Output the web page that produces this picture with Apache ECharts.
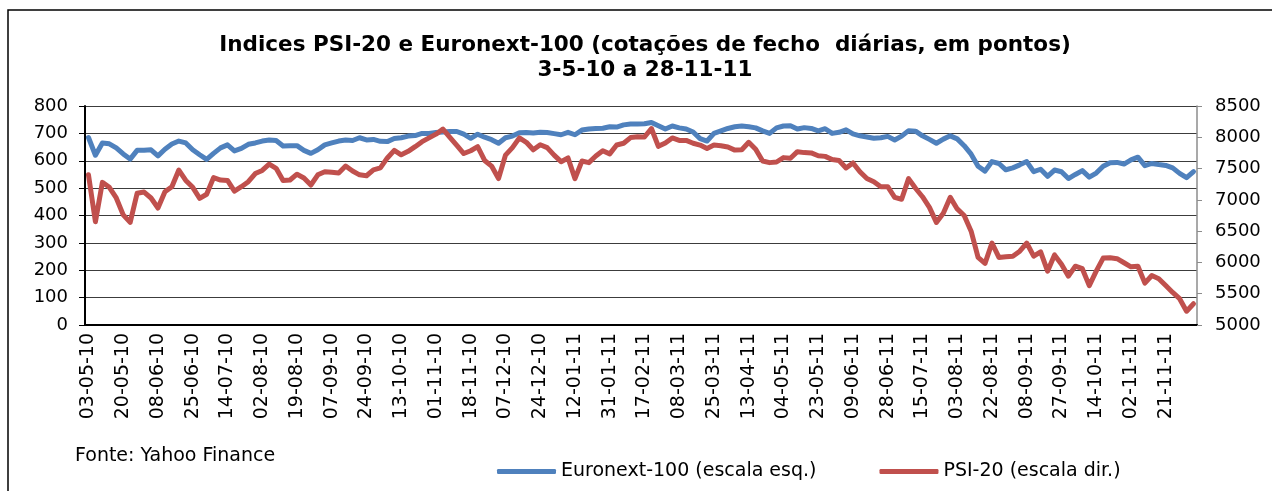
<!DOCTYPE html>
<html>
<head>
<meta charset="utf-8">
<script src="https://cdn.jsdelivr.net/npm/echarts@6/dist/echarts.min.js"></script>
<style>
html,body{margin:0;padding:0;background:#fff;}
#c{width:1272px;height:491px;}
</style>
</head>
<body>
<div id="c"></div>
<script>
// Tick labels (every 13th trading day)
const tickLabels = ['03-05-10','20-05-10','08-06-10','25-06-10','14-07-10','02-08-10','19-08-10','07-09-10',
  '24-09-10','13-10-10','01-11-10','18-11-10','07-12-10','24-12-10','12-01-11','31-01-11',
  '17-02-11','08-03-11','25-03-11','13-04-11','04-05-11','23-05-11','09-06-11','28-06-11',
  '15-07-11','03-08-11','22-08-11','08-09-11','27-09-11','14-10-11','02-11-11','21-11-11'];

// Euronext-100 (left scale), sampled 5 points per tick interval
const euronext = [
  685,620,665,662,647,625,606,638,638,640,
  618,642,661,672,665,640,622,605,627,647,
  658,636,645,660,665,672,676,674,654,655,
  655,638,627,640,658,665,672,676,674,684,
  676,678,671,670,681,684,690,692,700,700,
  703,705,707,707,697,682,697,686,677,664,
  684,690,702,703,701,704,703,699,695,704,
  695,712,716,718,719,724,723,731,734,734,
  735,740,728,716,727,720,716,705,681,672,
  700,709,718,724,727,724,720,709,700,720,
  727,728,716,721,718,709,717,700,704,713,
  698,691,687,682,684,689,676,690,710,708,
  691,678,664,679,691,680,655,624,580,562,
  597,590,567,574,585,597,560,569,543,566,
  560,535,550,564,540,555,580,593,594,588,
  603,613,582,590,586,583,574,554,538,560
];

// PSI-20 (right scale)
const psi20 = [
  7400,6650,7280,7200,7030,6760,6640,7105,7125,7030,
  6870,7130,7210,7477,7310,7200,7025,7090,7355,7317,
  7310,7140,7210,7290,7420,7470,7570,7504,7310,7317,
  7410,7350,7237,7400,7450,7440,7430,7540,7460,7400,
  7385,7480,7510,7670,7790,7720,7775,7850,7930,7990,
  8050,8130,8000,7870,7740,7785,7850,7630,7540,7340,
  7715,7835,7990,7920,7800,7880,7835,7715,7610,7670,
  7340,7620,7595,7700,7785,7735,7877,7904,7995,8010,
  8005,8140,7855,7910,7990,7950,7950,7905,7875,7820,
  7875,7865,7845,7795,7800,7920,7810,7620,7595,7605,
  7675,7665,7770,7755,7750,7705,7695,7645,7630,7510,
  7590,7450,7340,7290,7210,7210,7040,7010,7340,7185,
  7050,6880,6640,6785,7040,6855,6750,6500,6080,5985,
  6310,6080,6090,6100,6180,6310,6100,6170,5860,6120,
  5970,5780,5940,5900,5630,5860,6070,6075,6060,5995,
  5930,5940,5670,5790,5740,5630,5520,5420,5220,5340
];

const pointsPerTick = 5;
const categories = [];
tickLabels.forEach(function (t) {
  categories.push(t);
  for (let k = 1; k < pointsPerTick; k++) categories.push(t + '#' + k);
});

const FONT = 'DejaVu Sans';
const chart = echarts.init(document.getElementById('c'), null, {renderer: 'canvas'});
chart.setOption({
  animation: false,
  backgroundColor: '#ffffff',
  graphic: [
    {type: 'rect', silent: true, z: -10,
     shape: {x: 8, y: 10, width: 1300, height: 600},
     style: {fill: 'none', stroke: '#000', lineWidth: 1.5}},
    {type: 'text', x: 645, y: 33,
     style: {text: 'Indices PSI-20 e Euronext-100 (cotações de fecho  diárias, em pontos)\n3-5-10 a 28-11-11',
             textAlign: 'center', fontFamily: FONT, fontWeight: 'bold', fontSize: 21.5,
             lineHeight: 25, fill: '#000'}},
    {type: 'text', x: 75, y: 447,
     style: {text: 'Fonte: Yahoo Finance', fontFamily: FONT, fontSize: 19, fill: '#000'}}
  ],
  legend: {
    left: 497, top: 462, padding: 0, itemWidth: 59, itemHeight: 5, itemGap: 63, icon: 'roundRect',
    textStyle: {fontFamily: FONT, fontSize: 19, color: '#000'},
    data: ['Euronext-100 (escala esq.)', 'PSI-20 (escala dir.)']
  },
  grid: {left: 85, right: 75, top: 106, bottom: 166},
  xAxis: {
    type: 'category', data: categories, boundaryGap: true,
    axisLine: {lineStyle: {color: '#000', width: 2}},
    axisTick: {show: false},
    axisLabel: {interval: pointsPerTick - 1, rotate: 90, margin: 8, fontFamily: FONT, fontSize: 19, color: '#000'},
    splitLine: {show: false}
  },
  yAxis: [
    {type: 'value', position: 'left', min: 0, max: 800, interval: 100,
     axisLine: {show: true, lineStyle: {color: '#000', width: 2}},
     axisTick: {show: true, length: 6, lineStyle: {color: '#000'}},
     axisLabel: {margin: 17, fontFamily: FONT, fontSize: 18, color: '#000',
                 formatter: function (v) { return String(v); }},
     splitLine: {show: true, lineStyle: {color: '#3c3c3c', width: 1}}},
    {type: 'value', position: 'right', min: 5000, max: 8500, interval: 500,
     axisLine: {show: true, lineStyle: {color: '#8c8c8c', width: 1.5}},
     axisTick: {show: true, length: 5, lineStyle: {color: '#8c8c8c'}},
     axisLabel: {margin: 18, fontFamily: FONT, fontSize: 18, color: '#000',
                 formatter: function (v) { return String(v); }},
     splitLine: {show: false}}
  ],
  series: [
    {name: 'Euronext-100 (escala esq.)', type: 'line', yAxisIndex: 0, data: euronext,
     symbol: 'none', color: '#4F81BD',
     lineStyle: {width: 5, color: '#4F81BD', cap: 'round', join: 'round'}},
    {name: 'PSI-20 (escala dir.)', type: 'line', yAxisIndex: 1, data: psi20,
     symbol: 'none', color: '#C0504D',
     lineStyle: {width: 5, color: '#C0504D', cap: 'round', join: 'round'}}
  ]
});
</script>
</body>
</html>
